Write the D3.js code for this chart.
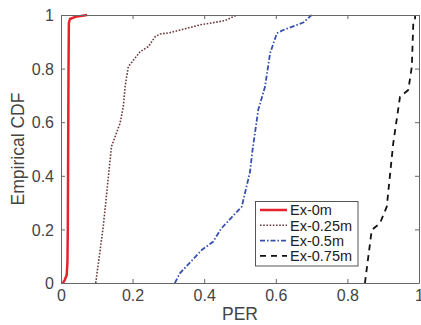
<!DOCTYPE html>
<html><head><meta charset="utf-8">
<script src="https://cdn.jsdelivr.net/npm/d3@7"></script>
<style>body{margin:0;background:#fff}svg{display:block;font-family:"Liberation Sans",Arial,Helvetica,sans-serif}</style>
</head><body><svg id="c" width="421" height="325"></svg>
<script>
const xTicks = [0, 0.2, 0.4, 0.6, 0.8, 1];
const yTicks = [0, 0.2, 0.4, 0.6, 0.8, 1];
const seriesNames = ["Ex-0m", "Ex-0.25m", "Ex-0.5m", "Ex-0.75m"];
const ex0 = [[0.005,0],[0.01,0.01],[0.016,0.03],[0.018,0.08],[0.019,0.2],[0.02,0.5],[0.021,0.8],[0.022,0.97],[0.025,0.985],[0.04,0.993],[0.073,1]];
const ex025 = [[0.097,0],[0.118,0.21],[0.141,0.509],[0.165,0.596],[0.174,0.658],[0.179,0.733],[0.188,0.807],[0.221,0.863],[0.244,0.882],[0.263,0.919],[0.277,0.929],[0.304,0.934],[0.388,0.963],[0.458,0.979],[0.491,1]];
const ex05 = [[0.318,0],[0.332,0.036],[0.393,0.123],[0.425,0.154],[0.448,0.204],[0.505,0.285],[0.528,0.415],[0.535,0.496],[0.551,0.646],[0.570,0.733],[0.584,0.857],[0.603,0.932],[0.621,0.944],[0.677,0.972],[0.700,1]];
const ex075 = [[0.849,0],[0.868,0.198],[0.891,0.223],[0.910,0.285],[0.928,0.521],[0.947,0.695],[0.970,0.72],[0.980,0.807],[0.984,0.969],[0.989,0.98],[0.989,1]];

const svg = d3.select("#c");
const L = 61, R = 419, T = 15, B = 283;
const x = d3.scaleLinear().domain([0,1]).range([L,R]);
const y = d3.scaleLinear().domain([0,1]).range([B,T]);
const axisCol = "#666", textCol = "#444";

const styles = [
  {data: ex0, color: "#e8212b", width: 2.5, dash: null},
  {data: ex025, color: "#6b3a3a", width: 1.6, dash: "1.6,1.6"},
  {data: ex05, color: "#3550b0", width: 1.8, dash: "5,2,1.5,2"},
  {data: ex075, color: "#111", width: 1.8, dash: "6,5"}
];

const line = d3.line().x(d=>x(d[0])).y(d=>y(d[1]));
const plot = svg.append("g");
styles.forEach(s => {
  plot.append("path").attr("d", line(s.data)).attr("fill","none")
    .attr("stroke", s.color).attr("stroke-width", s.width)
    .attr("stroke-dasharray", s.dash).attr("stroke-linejoin","round");
});

// axes
const tickLen = 4;
const ax = svg.append("g").attr("transform",`translate(0,${B})`)
  .call(d3.axisBottom(x).tickValues(xTicks).tickFormat(d3.format("")).tickSizeInner(-tickLen).tickSizeOuter(0).tickPadding(7));
const axT = svg.append("g").attr("transform",`translate(0,${T})`)
  .call(d3.axisTop(x).tickValues(xTicks).tickFormat("").tickSizeInner(-tickLen).tickSizeOuter(0));
const ay = svg.append("g").attr("transform",`translate(${L},0)`)
  .call(d3.axisLeft(y).tickValues(yTicks).tickFormat(d3.format("")).tickSizeInner(-tickLen).tickSizeOuter(0).tickPadding(7));
const ayR = svg.append("g").attr("transform",`translate(${R},0)`)
  .call(d3.axisRight(y).tickValues(yTicks).tickFormat("").tickSizeInner(-tickLen).tickSizeOuter(0));
[ax,axT,ay,ayR].forEach(g=>{
  g.select(".domain").attr("stroke",axisCol).attr("stroke-width",1);
  g.selectAll(".tick line").attr("stroke",axisCol);
  g.selectAll("text").attr("fill",textCol).style("font-size","16px").style("font-family",'"Liberation Sans",Arial,sans-serif');
});
ay.selectAll("text").attr("dy","0.35em");
ax.selectAll("text").attr("dy","0.71em");

svg.append("text").attr("x",(L+R)/2).attr("y",320).attr("text-anchor","middle")
  .attr("fill",textCol).style("font-size","17.5px").text("PER");
svg.append("text").attr("transform",`translate(24,${(T+B)/2}) rotate(-90)`).attr("text-anchor","middle")
  .attr("fill",textCol).style("font-size","17.5px").text("Empirical CDF");

// legend
const lg = svg.append("g");
lg.append("rect").attr("x",255.5).attr("y",201.5).attr("width",102.5).attr("height",64.5)
  .attr("fill","#fff").attr("stroke","#555").attr("stroke-width",1);
seriesNames.forEach((n,i)=>{
  const yy = 210 + i*15.3;
  const s = styles[i];
  lg.append("line").attr("x1",260).attr("x2",287).attr("y1",yy).attr("y2",yy)
    .attr("stroke",s.color).attr("stroke-width",s.width).attr("stroke-dasharray",s.dash);
  lg.append("text").attr("x",290).attr("y",yy).attr("dy","0.36em").attr("fill","#222")
    .style("font-size","14.5px").text(n);
});
</script></body></html>
